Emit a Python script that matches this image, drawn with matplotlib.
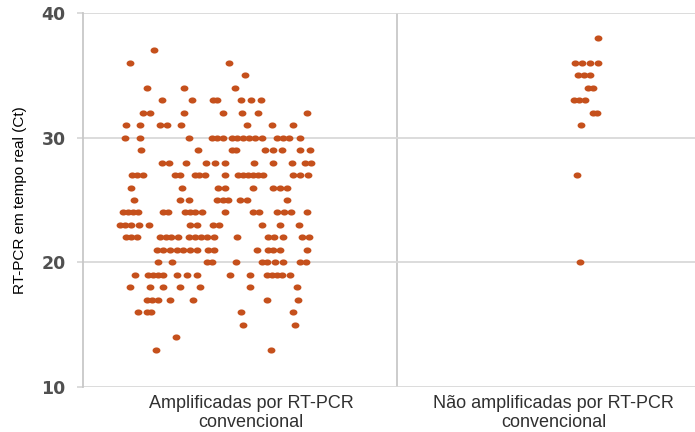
import matplotlib
matplotlib.use("Agg")
import matplotlib.pyplot as plt
from matplotlib.path import Path
from matplotlib.transforms import ScaledTranslation
import numpy as np

# Ct values of each sample, grouped by Ct level, with the horizontal
# jitter (in category widths) used to spread equal values apart.
categories = ["Amplificadas por RT-PCR\nconvencional",
              "Não amplificadas por RT-PCR\nconvencional"]

amp_levels = [37, 36, 35, 34, 33, 32, 31, 30, 29, 28, 27, 26, 25,
              24, 23, 22, 21, 20, 19, 18, 17, 16, 15, 14, 13]
amp_jitter = [
    [-0.274],
    [-0.350, -0.035],
    [0.016],
    [-0.296, -0.178, -0.016],
    [-0.248, -0.153, -0.086, -0.073, 0.003, 0.035, 0.067],
    [-0.309, -0.287, -0.178, -0.054, 0.006, 0.057, 0.213],
    [-0.363, -0.318, -0.255, -0.232, -0.188, 0.022, 0.102, 0.169],
    [-0.366, -0.318, -0.162, -0.089, -0.073, -0.054, -0.025, -0.010,
     0.010, 0.029, 0.048, 0.070, 0.118, 0.137, 0.156, 0.191],
    [-0.315, -0.134, -0.025, -0.013, 0.080, 0.105, 0.134, 0.191, 0.223],
    [-0.248, -0.226, -0.172, -0.108, -0.080, -0.048, 0.045, 0.105,
     0.166, 0.207, 0.226],
    [-0.344, -0.328, -0.309, -0.207, -0.191, -0.143, -0.131, -0.111,
     -0.048, -0.006, 0.010, 0.025, 0.041, 0.057, 0.073, 0.169, 0.191,
     0.217],
    [-0.347, -0.185, -0.070, -0.048, 0.041, 0.105, 0.127, 0.150],
    [-0.338, -0.191, -0.162, -0.073, -0.054, -0.038, 0.000, 0.022, 0.150],
    [-0.373, -0.357, -0.341, -0.325, -0.245, -0.229, -0.175, -0.159,
     -0.143, -0.121, -0.048, 0.041, 0.061, 0.118, 0.140, 0.162, 0.213],
    [-0.382, -0.366, -0.347, -0.322, -0.290, -0.159, -0.137, -0.086,
     -0.067, 0.070, 0.127, 0.188],
    [-0.363, -0.347, -0.328, -0.255, -0.236, -0.220, -0.197, -0.162,
     -0.143, -0.124, -0.105, -0.083, -0.010, 0.089, 0.108, 0.137, 0.197,
     0.220],
    [-0.264, -0.245, -0.223, -0.201, -0.182, -0.159, -0.137, -0.102,
     -0.083, 0.054, 0.089, 0.105, 0.127, 0.213],
    [-0.261, -0.217, -0.105, -0.089, -0.013, 0.070, 0.086, 0.111, 0.137,
     0.191, 0.210],
    [-0.334, -0.293, -0.277, -0.261, -0.245, -0.201, -0.169, -0.137,
     -0.032, 0.032, 0.086, 0.102, 0.118, 0.134, 0.159],
    [-0.350, -0.287, -0.245, -0.191, -0.127, 0.032, 0.182],
    [-0.296, -0.280, -0.261, -0.223, -0.150, 0.086, 0.185],
    [-0.325, -0.296, -0.283, 0.003, 0.169],
    [0.010, 0.175],
    [-0.204],
    [-0.268, 0.099],
]

nao_levels = [38, 36, 35, 34, 33, 32, 31, 27, 20]
nao_jitter = [
    [0.140],
    [0.067, 0.089, 0.115, 0.140],
    [0.076, 0.096, 0.115],
    [0.108, 0.124],
    [0.064, 0.080, 0.099],
    [0.124, 0.137],
    [0.086],
    [0.073],
    [0.083],
]

y_ticks = [10, 20, 30, 40]
y_label = "RT-PCR em tempo real (Ct)"


def expand(levels, jitter, center):
    xs, ys = [], []
    for ct, offs in zip(levels, jitter):
        for o in offs:
            xs.append(center + o)
            ys.append(ct)
    return np.array(xs), np.array(ys)


# slightly flattened round marker
t = np.linspace(0, 2 * np.pi, 40)
dot = Path(np.column_stack([np.cos(t), 0.78 * np.sin(t)]), closed=True)

dot_color = "#C5501C"
grid_color = "#D9D9D9"

fig = plt.figure(figsize=(6.95, 4.32), dpi=100)
ax = fig.add_axes([83 / 695, 1 - 387 / 432, 1 - 83 / 695, (387 - 13) / 432])

for i, (lv, jt) in enumerate([(amp_levels, amp_jitter),
                              (nao_levels, nao_jitter)]):
    x, y = expand(lv, jt, i)
    ax.scatter(x, y, s=32, marker=dot, color=dot_color, linewidths=0,
               zorder=3)

ax.set_xlim(-0.5, 1.45)
ax.set_ylim(10, 40)
ax.set_yticks(y_ticks)
ax.set_yticklabels([str(v) for v in y_ticks], fontsize=12.5,
                   fontweight="bold", color="#505050", family="DejaVu Sans")
ax.yaxis.grid(True, color=grid_color, linewidth=1.3, zorder=0)
ax.axvline(0.5, color="#C8C8C8", linewidth=1.3, zorder=1)
ax.tick_params(axis="y", length=4.5, width=1.3, color=grid_color, pad=8)

ax.set_xticks([0, 1])
ax.set_xticklabels(categories, fontsize=13, color="#303030",
                   family="Liberation Sans", linespacing=1.1)
ax.tick_params(axis="x", length=0, pad=6)
shift = ScaledTranslation(0.11, 0, fig.dpi_scale_trans)
first = ax.get_xticklabels()[0]
first.set_transform(first.get_transform() + shift)

for side in ("top", "right", "bottom"):
    ax.spines[side].set_visible(False)
ax.spines["left"].set_color("#C8C8C8")
ax.spines["left"].set_linewidth(1.3)

ax.set_ylabel(y_label, fontsize=11, family="Liberation Sans",
              color="#000000", labelpad=10)

fig.savefig("out.png", dpi=100)
